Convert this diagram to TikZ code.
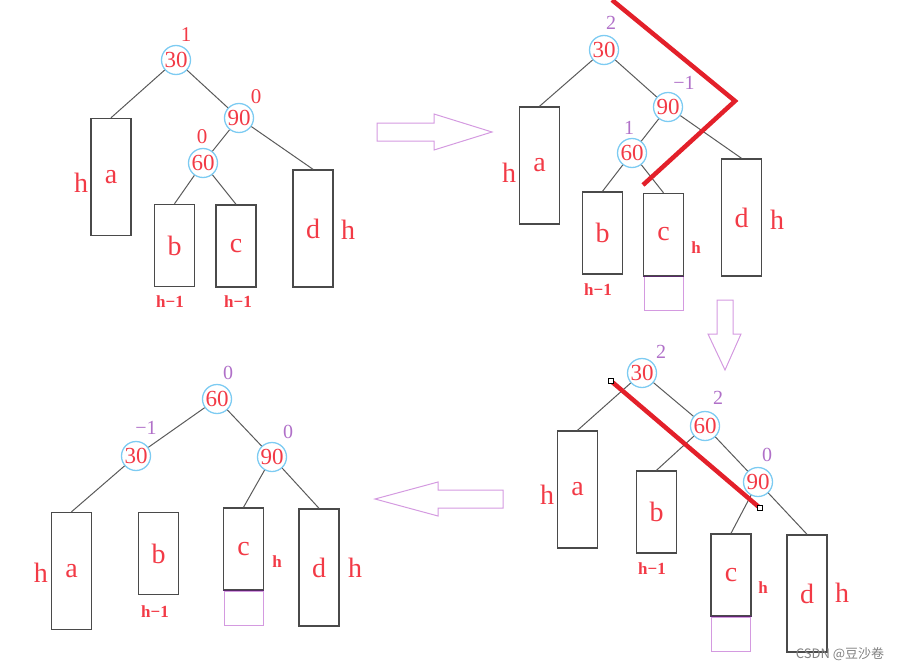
\documentclass[tikz,border=0pt]{standalone}
\usepackage{fontspec}
\setmainfont{Liberation Serif}
\newfontfamily\cjk{Noto Sans CJK SC}
\usetikzlibrary{calc}
\definecolor{labred}{HTML}{F23A46}
\definecolor{keyblue}{HTML}{7DCBF2}
\definecolor{bfpurple}{HTML}{B070C8}
\definecolor{arrowpurple}{HTML}{D49AE0}
\definecolor{cutred}{HTML}{E3202A}
\definecolor{edgegray}{HTML}{5A5A5A}
\definecolor{boxgray}{HTML}{4A4A4A}
\definecolor{lowline}{HTML}{5A2A6A}

\begin{document}
\begin{tikzpicture}[x=1pt,y=-1pt,
  key/.style={circle,draw=keyblue,line width=1.3pt,inner sep=0pt,minimum size=29pt,text=labred,font=\fontsize{23}{23}\selectfont},
  sub/.style={draw=boxgray,line width=1.4pt,inner sep=0pt,minimum width=40pt,text=labred,font=\fontsize{28}{28}\selectfont},
  tall/.style={sub,minimum height=117pt},
  short/.style={sub,minimum height=82pt},
  growbox/.style={draw=arrowpurple,line width=1pt,inner sep=0pt,minimum width=39pt,minimum height=34pt},
  hbig/.style={text=labred,font=\fontsize{28}{28}\selectfont},
  hsmall/.style={text=labred,font=\bfseries\fontsize{17}{17}\selectfont},
  bfred/.style={text=labred,font=\fontsize{21}{21}\selectfont},
  bf/.style={text=bfpurple,font=\fontsize{20}{20}\selectfont},
  edge/.style={draw=edgegray,line width=1pt},
  bigarrow/.style={draw=arrowpurple,line width=1pt,line join=miter},
  cut/.style={draw=cutred,line width=4.5pt},
  grip/.style={draw=black,fill=white,line width=0.6pt,inner sep=0pt,minimum size=4.5pt}]
\useasboundingbox (0,0) rectangle (906,672);

\node[key] (p1k30) at (176,60) {30};
\node[key] (p1k90) at (239,118) {90};
\node[key] (p1k60) at (203,163) {60};
\node[tall] (p1a) at (111,177) {a};
\node[short] (p1b) at (174.5,245.5) {b};
\node[short] (p1c) at (236,246) {c};
\node[tall] (p1d) at (313,228.5) {d};
\node[bfred] (p1f30) at (186,35) {1};
\node[bfred] (p1f90) at (256,97) {0};
\node[bfred] (p1f60) at (202,137) {0};
\node[hbig] (p1ha) at (81,183) {h};
\node[hbig] (p1hd) at (348,230) {h};
\node[hsmall] (p1hb) at (170,302) {h−1};
\node[hsmall] (p1hc) at (238,302) {h−1};
\draw[edge] (p1k30) -- (p1a.north);
\draw[edge] (p1k30) -- (p1k90);
\draw[edge] (p1k90) -- (p1k60);
\draw[edge] (p1k90) -- (p1d.north);
\draw[edge] (p1k60) -- (p1b.north);
\draw[edge] (p1k60) -- (p1c.north);

\draw[bigarrow] (377,123) -- (434,123) -- (434,114) -- (492,132) -- (434,150) -- (434,141) -- (377,141) -- cycle;

\node[key] (p2k30) at (604,50) {30};
\node[key] (p2k90) at (668,107) {90};
\node[key] (p2k60) at (632,153) {60};
\node[tall] (p2a) at (539.5,165.5) {a};
\node[short] (p2b) at (602.5,233) {b};
\node[short] (p2c) at (663.5,234.5) {c};
\node[growbox,anchor=north] (p2cx) at (p2c.south) {};
\node[tall] (p2d) at (741.5,217.5) {d};
\draw[lowline,line width=1.4pt] (p2c.south west) -- (p2c.south east);
\node[bf] (p2f30) at (611,23) {2};
\node[bf] (p2f90) at (684,83) {−1};
\node[bf] (p2f60) at (629,128) {1};
\node[hbig] (p2ha) at (509,173) {h};
\node[hbig] (p2hd) at (777,220) {h};
\node[hsmall] (p2hc) at (696,248) {h};
\node[hsmall] (p2hb) at (598,290) {h−1};
\draw[edge] (p2k30) -- (p2a.north);
\draw[edge] (p2k30) -- (p2k90);
\draw[edge] (p2k90) -- (p2k60);
\draw[edge] (p2k90) -- (p2d.north);
\draw[edge] (p2k60) -- (p2b.north);
\draw[edge] (p2k60) -- (p2c.north);
\draw[cut,line join=miter] (612,0) -- (735,101) -- (643,185);

\draw[bigarrow] (717,300) -- (733,300) -- (733,334) -- (741,334) -- (725,370) -- (708,334) -- (717,334) -- cycle;

\node[key] (p3k30) at (642,373) {30};
\node[key] (p3k60) at (705,426) {60};
\node[key] (p3k90) at (758,482) {90};
\node[tall] (p3a) at (577.5,489.5) {a};
\node[short] (p3b) at (656.5,512) {b};
\node[short] (p3c) at (731,575) {c};
\node[growbox,anchor=north] (p3cx) at (p3c.south) {};
\node[tall] (p3d) at (807,593.5) {d};
\draw[lowline,line width=1.4pt] (p3c.south west) -- (p3c.south east);
\node[bf] (p3f30) at (661,352) {2};
\node[bf] (p3f60) at (718,398) {2};
\node[bf] (p3f90) at (767,455) {0};
\node[hbig] (p3ha) at (547,495) {h};
\node[hbig] (p3hd) at (842,593) {h};
\node[hsmall] (p3hc) at (763,588) {h};
\node[hsmall] (p3hb) at (652,569) {h−1};
\draw[edge] (p3k30) -- (p3a.north);
\draw[edge] (p3k30) -- (p3k60);
\draw[edge] (p3k60) -- (p3b.north);
\draw[edge] (p3k60) -- (p3k90);
\draw[edge] (p3k90) -- (p3c.north);
\draw[edge] (p3k90) -- (p3d.north);
\draw[cut] (611,381) -- (760,508);
\node[grip] at (611,381) {};
\node[grip] at (760,508) {};

\draw[bigarrow] (375,499) -- (438,482) -- (438,490) -- (503,490) -- (503,508) -- (438,508) -- (438,516) -- cycle;

\node[key] (p4k60) at (217,399) {60};
\node[key] (p4k30) at (136,456) {30};
\node[key] (p4k90) at (272,457) {90};
\node[tall] (p4a) at (71.5,571) {a};
\node[short] (p4b) at (158.5,553.5) {b};
\node[short] (p4c) at (243.5,549) {c};
\node[growbox,anchor=north] (p4cx) at (p4c.south) {};
\node[tall] (p4d) at (319,567.5) {d};
\draw[lowline,line width=1.4pt] (p4c.south west) -- (p4c.south east);
\node[bf] (p4f60) at (228,373) {0};
\node[bf] (p4f30) at (146,428) {−1};
\node[bf] (p4f90) at (288,432) {0};
\node[hbig] (p4ha) at (41,573) {h};
\node[hbig] (p4hd) at (355,568) {h};
\node[hsmall] (p4hc) at (277,562) {h};
\node[hsmall] (p4hb) at (155,612) {h−1};
\draw[edge] (p4k60) -- (p4k30);
\draw[edge] (p4k60) -- (p4k90);
\draw[edge] (p4k30) -- (p4a.north);
\draw[edge] (p4k90) -- (p4c.north);
\draw[edge] (p4k90) -- (p4d.north);

\node[text=gray,font=\cjk\fontsize{13}{13}\selectfont] (mark) at (840,654) {CSDN @豆沙卷};
\end{tikzpicture}
\end{document}
